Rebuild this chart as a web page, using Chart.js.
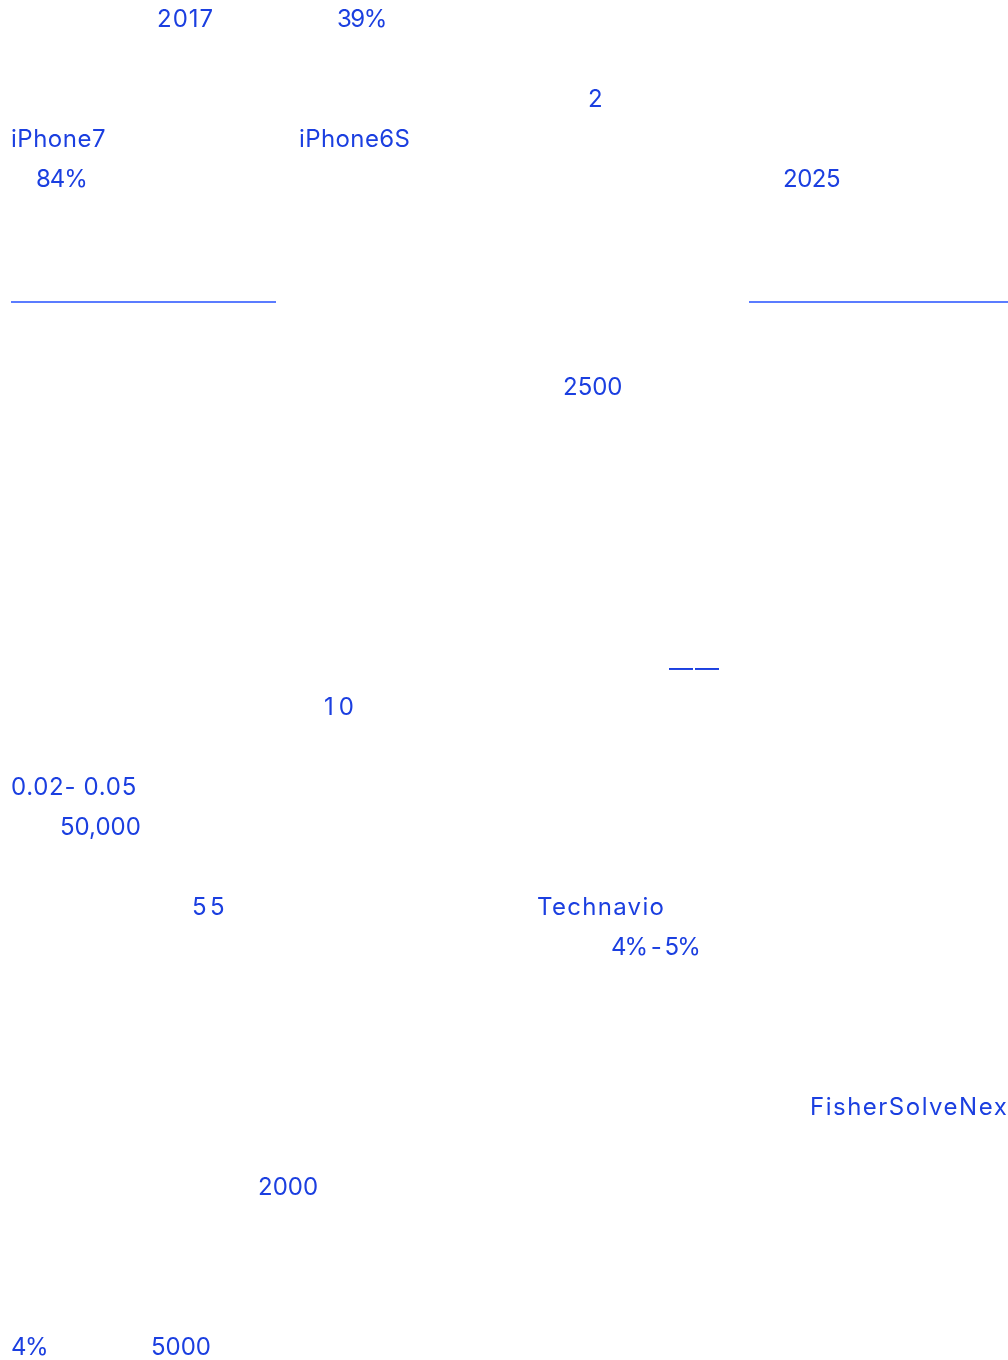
<!DOCTYPE html>
<html>
<head>
<meta charset="utf-8">
<script src="https://cdn.jsdelivr.net/npm/chart.js@4"></script>
<style>
  html, body { margin: 0; padding: 0; background: #fff; }
  #wrap { width: 1008px; height: 1360px; position: relative; }
</style>
</head>
<body>
<div id="wrap"><canvas id="textChart"></canvas></div>
<script>
// Text fragments left on the page, with their left edge and row
const labels = ['2017', '39%', '2', 'iPhone7', 'iPhone6S', '84%', '2025', '2500', '——', '10',
    '0.02- 0.05', '50,000', '55', 'Technavio', '4% - 5%', 'FisherSolveNext', '2000', '4%', '5000'];
const xs = [157, 337, 588, 11, 299, 36, 783, 563, 669, 324, 11, 60, 192, 537, 611, 810, 258, 11, 151];
const rows = [20, 20, 100, 140, 140, 180, 180, 388, 669, 708, 788, 828, 908, 908, 948, 1108, 1188, 1348, 1348];

// Two rule lines (start x, end x, row)
const ruleStart = [11, 749];
const ruleEnd = [276, 1008];
const ruleRow = [302, 302];

// letter spacing tweaks so each fragment keeps its original width
const spacing = {
    '2017': 1, '39%': -1.5, 'iPhone7': 0.5, 'iPhone6S': 0.4, '84%': -1, '2025': -0.5,
    '——': 2, '10': 5, '0.02- 0.05': 0.7, '55': 3.5, 'Technavio': 1.3, '4% - 5%': -2,
    'FisherSolveNext': 1.5, '4%': -1.5
};

const textColor = '#1b3fe0';
const ruleColor = '#5b7cff';

const textPlugin = {
    id: 'textPlugin',
    afterDatasetsDraw(chart) {
        const meta = chart.getDatasetMeta(0);
        const ctx = chart.ctx;
        ctx.save();
        ctx.fillStyle = textColor;
        ctx.font = '24px Inter, "Liberation Sans", sans-serif';
        ctx.textBaseline = 'middle';
        ctx.textAlign = 'left';
        meta.data.forEach((pt, i) => {
            ctx.letterSpacing = (spacing[labels[i]] || 0) + 'px';
            ctx.fillText(labels[i], pt.x, pt.y);
        });
        ctx.restore();
    }
};

const ruleSets = ruleStart.map((x0, i) => ({
    type: 'line',
    data: [{ x: x0, y: ruleRow[i] }, { x: ruleEnd[i], y: ruleRow[i] }],
    borderColor: ruleColor,
    borderWidth: 2,
    pointRadius: 0,
    showLine: true
}));

new Chart(document.getElementById('textChart'), {
    type: 'scatter',
    plugins: [textPlugin],
    data: {
        datasets: [{
            data: labels.map((l, i) => ({ x: xs[i], y: rows[i] })),
            pointRadius: 0
        }, ...ruleSets]
    },
    options: {
        responsive: true,
        maintainAspectRatio: false,
        animation: false,
        layout: { padding: 0 },
        plugins: { legend: { display: false }, tooltip: { enabled: false } },
        scales: {
            x: { type: 'linear', min: 0, max: 1008, display: false },
            y: { type: 'linear', min: 0, max: 1360, reverse: true, display: false }
        }
    }
});
</script>
</body>
</html>
